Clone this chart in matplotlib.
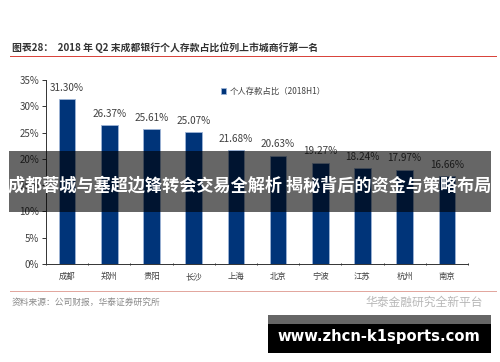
import matplotlib.pyplot as plt
from matplotlib.patches import Rectangle
from matplotlib.ticker import FuncFormatter
import numpy as np

plt.rcParams["font.family"] = ["Noto Sans CJK SC", "DejaVu Sans"]

cities = ["成都", "郑州", "贵阳", "长沙", "上海", "北京", "宁波", "江苏", "杭州", "南京"]
deposit_share = [31.30, 26.37, 25.61, 25.07, 21.68, 20.63, 19.27, 18.24, 17.97, 16.66]
y_ticks = [0, 5, 10, 15, 20, 25, 30, 35]
series_name = "个人存款占比（2018H1）"
title = "图表28：  2018 年 Q2 末成都银行个人存款占比位列上市城商行第一名"
source = "资料来源：公司财报，华泰证券研究所"
watermark = "华泰金融研究全新平台"
banner = "成都蓉城与塞超边锋转会交易全解析 揭秘背后的资金与策略布局"
site = "www.zhcn-k1sports.com"

W, H = 500, 362
BAR = "#003479"


def px_rect(fig, x0, y0, x1, y1, **kwargs):
    """Add a figure rectangle given in top-left pixel coordinates."""
    fig.patches.append(Rectangle((x0 / W, 1 - y1 / H), (x1 - x0) / W, (y1 - y0) / H,
                                 transform=fig.transFigure, figure=fig, **kwargs))


def px_text(fig, x, y, s, **kwargs):
    fig.text(x / W, 1 - y / H, s, **kwargs)


fig = plt.figure(figsize=(W / 100, H / 100), dpi=100)
ax = fig.add_axes([46 / W, 1 - 264 / H, 422 / W, 184 / H])

x = np.arange(len(cities))
bars = ax.bar(x, deposit_share, width=0.39, color=BAR, edgecolor="#9db4d6", linewidth=0.6,
              label=series_name)
for rect, value in zip(bars, deposit_share):
    ax.annotate(f"{value:.2f}%", (rect.get_x() + rect.get_width() / 2, value),
                xytext=(0, 4.5), textcoords="offset points", ha="center", va="bottom",
                fontsize=7.2, color="#404040")

ax.set_xlim(-0.5, len(cities) - 0.5)
ax.set_ylim(0, 35)
ax.set_yticks(y_ticks)
ax.yaxis.set_major_formatter(FuncFormatter(lambda v, _: f"{v:.0f}%"))
ax.set_xticks(x)
ax.set_xticklabels(cities)
ax.set_xticks(np.arange(-0.5, len(cities)), minor=True)
ax.tick_params(axis="x", which="major", length=0, labelsize=6, labelcolor="#404040", pad=6)
ax.tick_params(axis="x", which="minor", length=2, width=0.7, color="#333333", direction="inout")
ax.tick_params(axis="y", length=3, width=0.7, color="#333333", labelsize=7, labelcolor="#404040", pad=2)
for side in ("top", "right"):
    ax.spines[side].set_visible(False)
for side in ("left", "bottom"):
    ax.spines[side].set_linewidth(0.7)
    ax.spines[side].set_color("#333333")

ax.legend(loc="upper left", bbox_to_anchor=(0.4, 1.0), frameon=False, fontsize=6,
          handlelength=0.6, handleheight=0.7, handletextpad=0.4, labelcolor="#404040",
          borderpad=0.3)

px_text(fig, 12, 48, title, fontsize=7.1, fontweight="bold", color="#333333", va="center")
px_rect(fig, 10, 55.5, 497, 56.8, color="#d9443c", lw=0)
px_rect(fig, 10, 290.5, 497, 291.5, color="#e2a79f", lw=0)
px_text(fig, 12, 302, source, fontsize=6.3, color="#8a8a8a", va="center")
px_text(fig, 365, 302, watermark, fontsize=8.5, color="#b8b8b8", va="center")

# overlays sit above the chart
px_rect(fig, 9, 151, 491, 212, color="black", alpha=0.6, lw=0, zorder=5)
px_text(fig, 250, 186, banner, fontsize=12.3, fontweight="bold", color="white",
        ha="center", va="center", zorder=6)
px_rect(fig, 268, 315, 491, 324, color="#666666", lw=0, zorder=5)
px_rect(fig, 268, 324, 491, 353, color="black", lw=0, zorder=5)
px_text(fig, 379, 337, site, fontsize=10.6, fontweight="bold", color="white",
        family="DejaVu Sans", ha="center", va="center", zorder=6)

fig.savefig("out.png", dpi=100)
